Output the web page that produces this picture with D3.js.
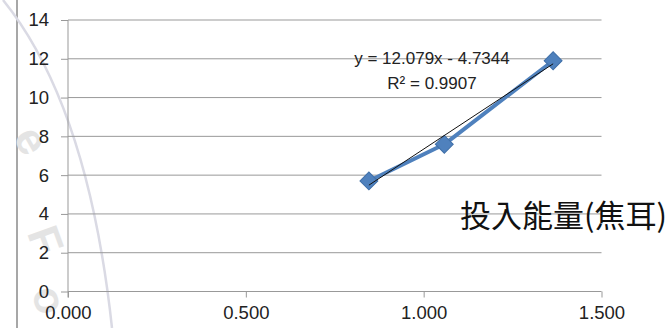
<!DOCTYPE html>
<html>
<head>
<meta charset="utf-8">
<script src="https://cdn.jsdelivr.net/npm/d3@7"></script>
<style>
html,body{margin:0;padding:0;background:#fff;}
svg{display:block;}
</style>
</head>
<body>
<svg id="c" width="672" height="328"></svg>
<script>
// ---- data ----
const energyX = [0.846, 1.058, 1.364];
const valueY = [5.70, 7.59, 11.90];
const xTicks = [0, 0.5, 1.0, 1.5];
const xTickLabels = ["0.000", "0.500", "1.000", "1.500"];
const yTicks = [0, 2, 4, 6, 8, 10, 12, 14];
const trendCoef = [12.079, -4.7344];
const equationLines = ["y = 12.079x - 4.7344", "R² = 0.9907"];
const axisTitle = "投入能量(焦耳)";
const watermarkLetters = ["e", "F", "o"];

const svg = d3.select("#c");
const x = d3.scaleLinear().domain([0, 1.5]).range([68, 601.5]);
const y = d3.scaleLinear().domain([0, 14]).range([291.5, 20]);
const latin = "'Liberation Sans', Arial, sans-serif";

// ---- watermark (decoration) ----
svg.append("line").attr("x1", 17).attr("x2", 17).attr("y1", 0).attr("y2", 328)
  .attr("stroke", "#8a8a8a").attr("stroke-width", 1.5);
svg.append("path").attr("d", "M3,0 Q88,105 112,328")
  .attr("fill", "none").attr("stroke", "#dadae4").attr("stroke-width", 2.5);
const wm = [[32, 140, 60], [46, 240, 70], [50, 300, 75]];
svg.selectAll("text.wm").data(watermarkLetters).join("text").attr("class", "wm")
  .attr("transform", (d, i) => `translate(${wm[i][0]},${wm[i][1]}) rotate(${wm[i][2]})`)
  .attr("text-anchor", "middle").attr("dominant-baseline", "central")
  .attr("font-family", latin).attr("font-weight", "bold").attr("font-size", 44)
  .attr("fill", "#e4e4e4").text(d => d);

// ---- grid + y axis ----
const gy = svg.append("g").attr("transform", `translate(${x(0)},0)`)
  .call(d3.axisLeft(y).tickValues(yTicks).tickSize(7).tickPadding(12).tickFormat(d3.format("d")));
gy.select(".domain").remove();
gy.selectAll(".tick line").attr("stroke", "#999");
gy.selectAll(".tick text").attr("font-family", latin).attr("font-size", 18.5).attr("fill", "#222");
svg.append("g").selectAll("line").data(yTicks).join("line")
  .attr("x1", x(0)).attr("x2", x(1.5)).attr("y1", d => y(d)).attr("y2", d => y(d))
  .attr("stroke", "#999").attr("stroke-width", 1);
svg.append("line").attr("x1", x(0)).attr("x2", x(0)).attr("y1", y(14)).attr("y2", y(0) + 6)
  .attr("stroke", "#999");

// ---- x axis ----
const gx = svg.append("g").attr("transform", `translate(0,${y(0)})`)
  .call(d3.axisBottom(x).tickValues(xTicks).tickSize(6).tickPadding(8)
    .tickFormat((d, i) => xTickLabels[i]));
gx.select(".domain").remove();
gx.selectAll(".tick line").attr("stroke", "#999");
gx.selectAll(".tick text").attr("font-family", latin).attr("font-size", 18.5).attr("fill", "#222");

// ---- series ----
const pts = energyX.map((v, i) => [v, valueY[i]]);
svg.append("path").datum(pts)
  .attr("d", d3.line().x(d => x(d[0])).y(d => y(d[1])))
  .attr("fill", "none").attr("stroke", "#4F81BD").attr("stroke-width", 4)
  .attr("stroke-linejoin", "round");
svg.selectAll("path.mk").data(pts).join("path").attr("class", "mk")
  .attr("d", d3.symbol().type(d3.symbolSquare).size(160)())
  .attr("transform", d => `translate(${x(d[0])},${y(d[1])}) rotate(45)`)
  .attr("fill", "#4F81BD").attr("stroke", "#3f6fa8").attr("stroke-width", 1);

// ---- trendline ----
const tx = d3.extent(energyX);
svg.append("line")
  .attr("x1", x(tx[0])).attr("y1", y(trendCoef[0] * tx[0] + trendCoef[1]))
  .attr("x2", x(tx[1])).attr("y2", y(trendCoef[0] * tx[1] + trendCoef[1]))
  .attr("stroke", "#111").attr("stroke-width", 1);

// ---- equation label ----
svg.selectAll("text.eq").data(equationLines).join("text").attr("class", "eq")
  .attr("x", 432).attr("y", (d, i) => 58 + i * 25)
  .attr("text-anchor", "middle").attr("dominant-baseline", "central")
  .attr("font-family", latin).attr("font-size", 17).attr("fill", "#222").text(d => d);

// ---- axis title ----
svg.append("text").attr("x", 460).attr("y", 213)
  .attr("dominant-baseline", "central")
  .attr("font-family", "'Noto Sans CJK TC', 'Noto Sans CJK SC', sans-serif")
  .attr("font-size", 31).attr("fill", "#111").text(axisTitle);
</script>
</body>
</html>
